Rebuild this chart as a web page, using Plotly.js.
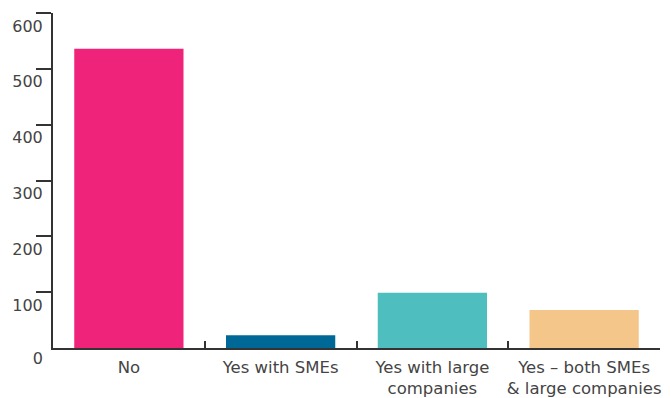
<!DOCTYPE html>
<html>
<head>
<meta charset="utf-8">
<script src="https://cdn.plot.ly/plotly-3.0.1.min.js"></script>
<style>html,body{margin:0;padding:0;background:#fff}#chart{width:671px;height:398px}</style>
</head>
<body>
<div id="chart"></div>
<script>
var categories = ["No", "Yes with SMEs", "Yes with large<br>companies", "Yes – both SMEs<br>& large companies"];
var values = [536, 23, 99, 68];
var colors = ["#EE2379", "#006896", "#4EBEBF", "#F4C68A"];
var yTicks = [100, 200, 300, 400, 500, 600];
var yTickText = ["100", "200", "300", "400", "500", "600"];
var yZeroTick = [0];
var yZeroText = ["0"];

var fontFam = "'DejaVu Sans', sans-serif";
var data = [
  {type: "bar", x: categories, y: values, marker: {color: colors}, width: 0.72, hoverinfo: "none"},
  {type: "scatter", x: [categories[0]], y: [0], yaxis: "y2", mode: "markers", marker: {opacity: 0}, hoverinfo: "none", showlegend: false}
];
var layout = {
  width: 671, height: 398,
  margin: {l: 53, r: 11, t: 13, b: 50, pad: 0},
  paper_bgcolor: "#fff", plot_bgcolor: "#fff",
  showlegend: false, bargap: 0.28,
  font: {family: fontFam, color: "#444", size: 16},
  xaxis: {
    showline: true, linecolor: "#333", linewidth: 2,
    ticks: "inside", tickson: "boundaries", ticklen: 7, tickcolor: "#333", tickwidth: 2,
    showgrid: false, zeroline: false, fixedrange: true, tickangle: 0,
    tickfont: {family: fontFam, size: 16.5, color: "#444"},
    ticklabelstandoff: 3
  },
  yaxis: {
    range: [0, 600], showline: true, linecolor: "#333", linewidth: 2,
    ticks: "outside", ticklen: 15, tickcolor: "#333", tickwidth: 2,
    tickvals: yTicks, ticktext: yTickText,
    showgrid: false, zeroline: false, fixedrange: true,
    tickfont: {family: fontFam, size: 16, color: "#444"},
    ticklabelshift: 13, ticklabelstandoff: -10
  },
  yaxis2: {
    overlaying: "y", range: [0, 600], showline: false, ticks: "",
    tickvals: yZeroTick, ticktext: yZeroText,
    showgrid: false, zeroline: false, fixedrange: true,
    tickfont: {family: fontFam, size: 16, color: "#444"},
    ticklabelshift: 10, ticklabelstandoff: 9
  }
};
Plotly.newPlot("chart", data, layout, {displayModeBar: false, staticPlot: true});
</script>
</body>
</html>
